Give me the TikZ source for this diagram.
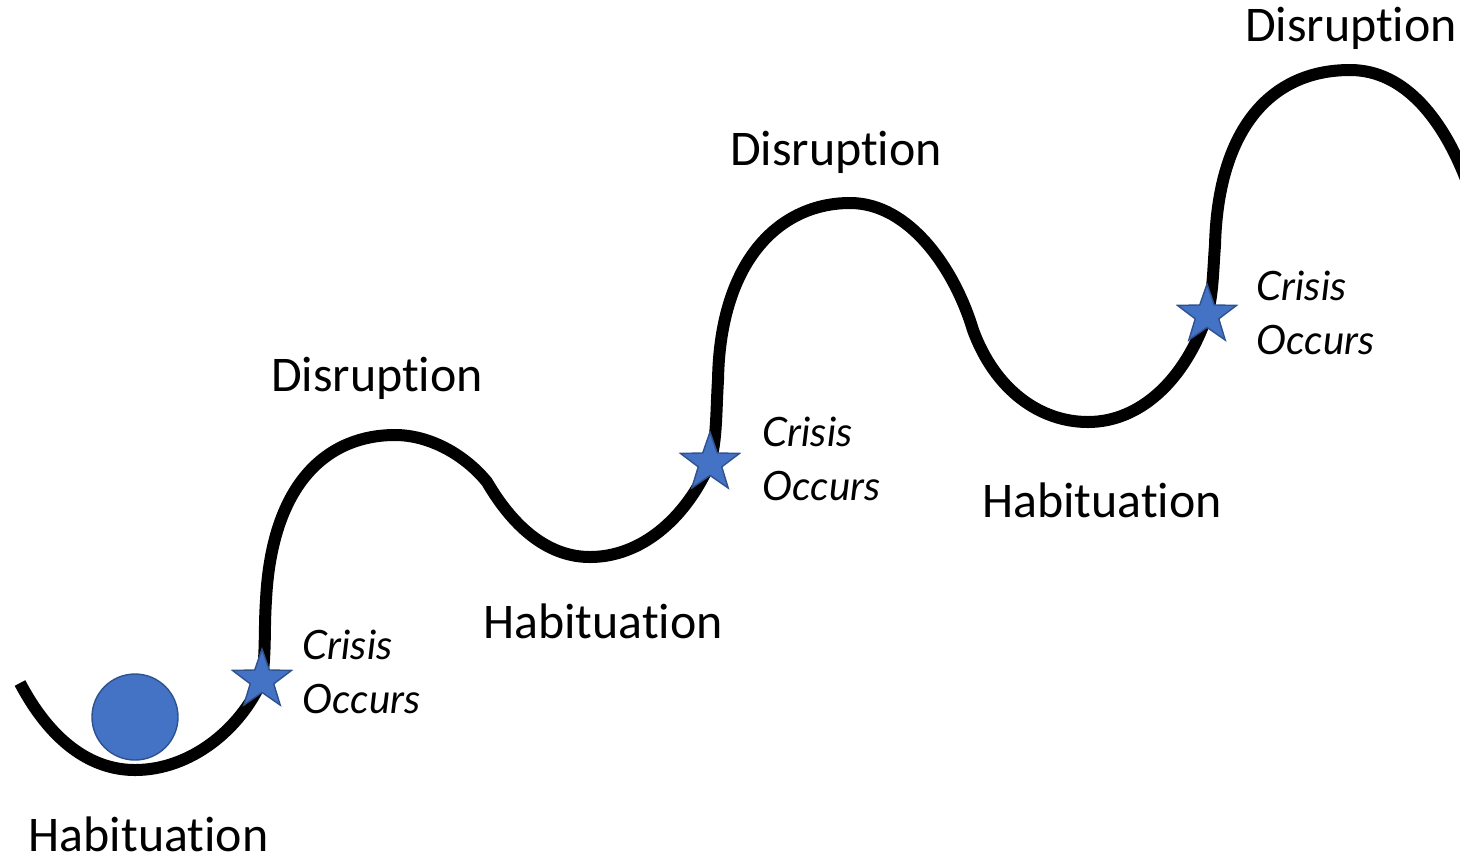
\documentclass[tikz,border=0pt]{standalone}
\usepackage{fontspec}
\setmainfont[Ligatures=NoCommon]{Carlito}
\newfontfamily\crisisfont{Lato}
\usepackage{tikz}
\usetikzlibrary{shapes.geometric, positioning}
\definecolor{cBlue}{RGB}{68,114,196}
\definecolor{cBlueEdge}{RGB}{47,82,143}
\tikzset{
	wave/.style      ={line width=1.2mm, black},
	phase/.style     ={font=\fontsize{14.2}{17}\selectfont, inner sep=0pt},
	crisis/.style    ={font=\crisisfont\itshape\fontsize{11.5}{15.4}\selectfont, align=left, anchor=west, inner sep=0pt},
	crisisstar/.style={star, star points=5, star point ratio=2.5, minimum size=6.2mm, inner sep=0pt, fill=cBlue, draw=cBlueEdge, line width=0.4pt},
	ball/.style      ={circle, minimum size=8.6mm, inner sep=0pt, fill=cBlue, draw=cBlueEdge, line width=0.4pt},
}
\begin{document}
\begin{tikzpicture}[x=0.1mm, y=-0.1mm]
	\useasboundingbox (0,0) rectangle (1460,859);
	\begin{scope}
		\clip (0,0) rectangle (1460,859);
		% the ups and downs
		\draw[wave] (20,683) .. controls (50,740) and (90,770) .. (135,770)
			.. controls (190,770) and (240,730) .. (262,680) coordinate (s1)
			.. controls (266,650) and (264,630) .. (266,600)
			.. controls (272,480) and (330,435) .. (395,435)
			.. controls (430,435) and (465,455) .. (487,482)
			.. controls (515,530) and (550,557) .. (590,557)
			.. controls (640,557) and (685,520) .. (710,463) coordinate (s2)
			.. controls (717,440) and (716,410) .. (718,380)
			.. controls (720,260) and (780,203) .. (850,203)
			.. controls (910,203) and (955,270) .. (973,330)
			.. controls (995,390) and (1040,422) .. (1088,422)
			.. controls (1140,422) and (1185,380) .. (1207,315) coordinate (s3)
			.. controls (1213,295) and (1213,270) .. (1215,245)
			.. controls (1218,130) and (1270,70) .. (1350,70)
			.. controls (1405,70) and (1445,120) .. (1470,190);
	\end{scope}
	\node[ball] (ball) at (135,717) {};
	\node[crisisstar] (star1) at (s1) {};
	\node[crisisstar] (star2) at (s2) {};
	\node[crisisstar] (star3) at (s3) {};
	% labels
	\node[phase, anchor=west] (hab1) at (28,834) {Habituation};
	\node[phase] (dis1) at (377,378) {Disruption};
	\node[phase] (hab2) at (603,621) {Habituation};
	\node[phase] (dis2) at (836,152) {Disruption};
	\node[phase] (hab3) at (1102,500) {Habituation};
	\node[phase] (dis3) at (1351,28) {Disruption};
	\node[crisis] (cri1) at (302,672) {Crisis\\Occurs};
	\node[crisis] (cri2) at (762,459) {Crisis\\Occurs};
	\node[crisis] (cri3) at (1256,313) {Crisis\\Occurs};
\end{tikzpicture}
\end{document}
